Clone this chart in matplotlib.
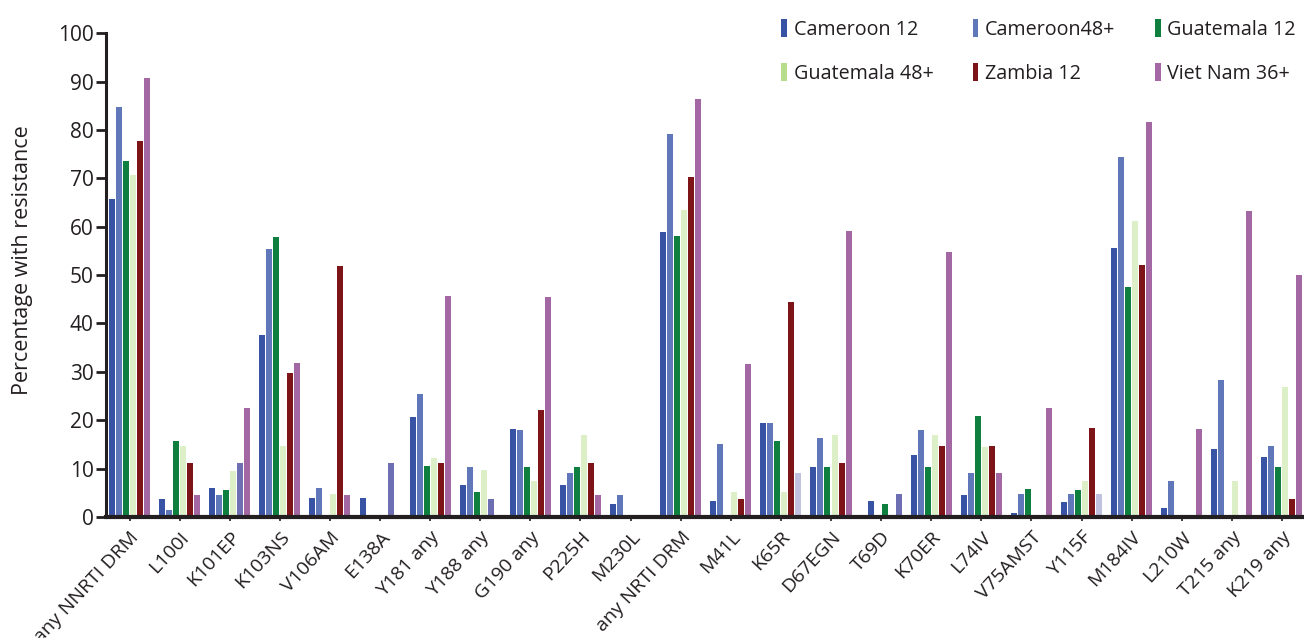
import matplotlib
matplotlib.use("Agg")
import matplotlib.pyplot as plt
from matplotlib.patches import Rectangle
import numpy as np

plt.rcParams['font.family'] = ['Open Sans', 'DejaVu Sans']

categories = ["any NNRTI DRM", "L100I", "K101EP", "K103NS", "V106AM", "E138A",
              "Y181 any", "Y188 any", "G190 any", "P225H", "M230L",
              "any NRTI DRM", "M41L", "K65R", "D67EGN", "T69D", "K70ER",
              "L74IV", "V75AMST", "Y115F", "M184IV", "L210W", "T215 any", "K219 any"]

series_names = ["Cameroon 12", "Cameroon48+", "Guatemala 12",
                "Guatemala 48+", "Zambia 12", "Viet Nam 36+"]

cameroon_12 = [65.8, 3.8, 6.0, 37.7, 4.0, 4.0, 20.6, 6.7, 18.2, 6.7, 2.6,
               59.0, 3.2, 19.5, 10.4, 0.0, 12.9, 4.5, 0.8, 3.0, 55.6, 1.8, 14.0, 12.3]
cameroon_48 = [84.8, 1.5, 4.5, 55.3, 6.0, 0.0, 25.4, 10.4, 18.0, 9.1, 4.6,
               79.2, 15.0, 19.5, 16.4, 3.2, 18.0, 9.1, 4.7, 4.7, 74.5, 7.4, 28.3, 14.7]
guatemala_12 = [73.5, 15.6, 5.5, 57.9, 0.0, 0.0, 10.5, 5.2, 10.4, 10.4, 0.0,
                58.0, 0.0, 15.7, 10.4, 0.0, 10.4, 20.9, 5.7, 5.5, 47.5, 0.0, 0.0, 10.4]
guatemala_48 = [70.6, 14.6, 9.6, 14.6, 4.8, 0.0, 12.2, 9.7, 7.4, 17.0, 0.0,
                63.5, 5.1, 5.1, 17.0, 2.6, 17.0, 14.5, 0.0, 7.4, 61.2, 0.0, 7.4, 26.8]
zambia_12 = [77.8, 11.1, 11.1, 29.7, 51.9, 11.1, 11.2, 3.8, 22.1, 11.2, 0.0,
             70.3, 3.7, 44.5, 11.2, 0.0, 14.7, 14.7, 0.0, 18.4, 52.1, 0.0, 0.0, 3.7]
viet_nam_36 = [90.7, 4.6, 22.6, 31.8, 4.6, 0.0, 45.7, 0.0, 45.5, 4.6, 0.0,
               86.3, 31.6, 9.0, 59.2, 4.7, 54.7, 9.1, 22.6, 4.7, 81.6, 18.2, 63.3, 50.1]

series_values = [cameroon_12, cameroon_48, guatemala_12, guatemala_48, zambia_12, viet_nam_36]

colors = ["#3953a4", "#6078b9", "#0f7f40", "#dcefc6", "#7c1418", "#a367a3"]
legend_colors = ["#3953a4", "#6078b9", "#0f7f40", "#b6dc8c", "#7c1418", "#a367a3"]
# bars drawn in a different colour in the source figure: (category, series) -> colour
color_overrides = {
    ("K101EP", 4): "#6e6eb2", ("E138A", 4): "#6e6eb2", ("Y188 any", 4): "#6e6eb2",
    ("T69D", 1): "#3953a4", ("T69D", 3): "#0f7f40", ("T69D", 5): "#6e6eb2",
    ("K65R", 5): "#c1c1e0", ("Y115F", 5): "#c1c1e0",
}

TXT = '#231f20'

fig = plt.figure(figsize=(13.04, 6.38), dpi=100)
ax = fig.add_axes([0.0813, 0.1897, 0.9187, 0.7583])

x = np.arange(len(categories))
pitch = 0.14
width = 0.12
for s, vals in enumerate(series_values):
    offs = (s - 2.5) * pitch
    cols = [color_overrides.get((c, s), colors[s]) for c in categories]
    ax.bar(x + offs, vals, width=width, color=cols, linewidth=0, zorder=2)

ax.set_xlim(-0.469, 23.44)
ax.set_ylim(0, 100)
ax.set_yticks(np.arange(0, 101, 10))
ax.set_xticks(x)
ax.set_xticklabels(categories, rotation=47, ha='right', va='top',
                   rotation_mode='anchor', fontsize=14, color=TXT)
ax.tick_params(axis='x', length=3, width=1.2, pad=5, color=TXT)
ax.tick_params(axis='y', length=7, width=2, labelsize=15, pad=2, colors=TXT)
ax.spines['top'].set_visible(False)
ax.spines['right'].set_visible(False)
ax.spines['left'].set_linewidth(2.2)
ax.spines['bottom'].set_linewidth(3)
ax.spines['left'].set_color(TXT)
ax.spines['bottom'].set_color(TXT)
ax.set_ylabel("Percentage with resistance", fontsize=15.5, color=TXT)
ax.yaxis.set_label_coords(-0.061, 0.531)

handles = [Rectangle((0, 0), 1, 1, color=c, linewidth=0) for c in legend_colors]
order = [0, 3, 1, 4, 2, 5]
leg = ax.legend([handles[i] for i in order], [series_names[i] for i in order],
                ncol=3, loc='upper right', bbox_to_anchor=(1.0, 1.045),
                frameon=False, fontsize=14.2, handlelength=0.28, handleheight=0.97,
                handletextpad=0.35, columnspacing=2.0, labelspacing=1.2,
                borderaxespad=0)
for t in leg.get_texts():
    t.set_color(TXT)

fig.savefig("out.png", dpi=100)
